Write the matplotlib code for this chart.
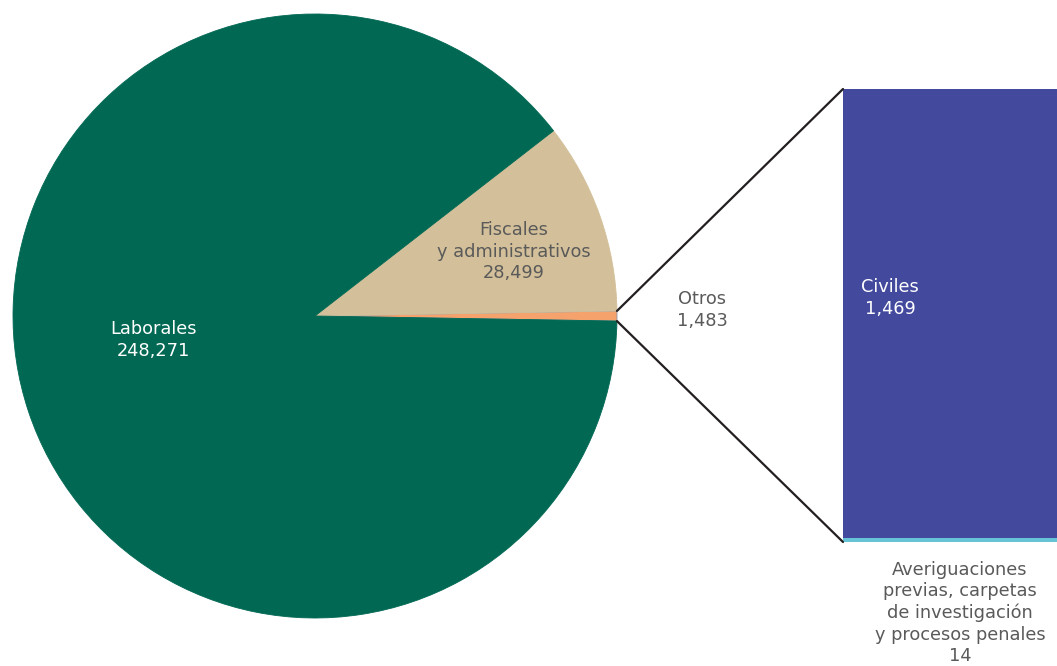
import numpy as np
import matplotlib
matplotlib.use("Agg")
import matplotlib.pyplot as plt
from matplotlib.patches import ConnectionPatch

plt.rcParams['font.family'] = ['DejaVu Sans']

# pie data
pie_labels = ['Otros', 'Fiscales\ny administrativos', 'Laborales']
pie_values = [1483, 28499, 248271]
pie_colors = ['#f5a26c', '#d3c09a', '#006853']

# bar data (breakdown of "Otros")
bar_labels = ['Averiguaciones\nprevias, carpetas\nde investigación\ny procesos penales', 'Civiles']
bar_values = [14, 1469]
bar_colors = ['#67c3d6', '#434a9e']

W, H = 1057, 666
fig = plt.figure(figsize=(W / 100, H / 100), dpi=100)

# pie axes, center (315,316) px, radius 302 px
ax = fig.add_axes([13 / W, (H - 618) / H, 604 / W, 604 / H])
otros_angle = 360 * pie_values[0] / sum(pie_values)
wedges, _ = ax.pie(pie_values, colors=pie_colors, startangle=-otros_angle / 2,
                   counterclock=True, radius=1,
                   wedgeprops=dict(linewidth=0.6, edgecolor='#8a94a8'))
for w in wedges:
    w.set_edgecolor(w.get_facecolor())
wedges[0].set_edgecolor('#8a94a8')
ax.set_xlim(-1, 1)
ax.set_ylim(-1, 1)
ax.axis('off')

grey = '#5a5a5a'
fs = 12.8
ls = 1.25
ax.text(-0.535, -0.08, f"{pie_labels[2]}\n{pie_values[2]:,}", ha='center', va='center',
        color='white', fontsize=fs, linespacing=ls)
ax.text(0.657, 0.212, f"{pie_labels[1]}\n{pie_values[1]:,}", ha='center', va='center',
        color=grey, fontsize=fs, linespacing=ls)
fig.text(702 / W, 1 - 310 / H, f"{pie_labels[0]}\n{pie_values[0]:,}", ha='center', va='center',
         color=grey, fontsize=fs, linespacing=ls)

# bar axes
ax2 = fig.add_axes([843 / W, (H - 542) / H, 214 / W, 453 / H])
bottom = 0
for v, c in zip(bar_values, bar_colors):
    ax2.bar([0], [v], bottom=bottom, width=1, color=c, linewidth=0)
    bottom += v
ax2.set_xlim(-0.5, 0.5)
ax2.set_ylim(0, sum(bar_values))
ax2.axis('off')

ax2.text(0.22, 0.539, f"{bar_labels[1]}\n{bar_values[1]:,}", transform=ax2.transAxes,
         ha='center', va='center', color='white', fontsize=fs, linespacing=ls)
fig.text(960 / W, 1 - 613 / H, f"{bar_labels[0]}\n{bar_values[0]:,}", ha='center', va='center',
         color=grey, fontsize=fs, linespacing=ls)

# connector lines
half = np.deg2rad(otros_angle / 2)
for sgn, yb in [(1, 1), (-1, 0)]:
    con = ConnectionPatch(xyA=(np.cos(half), sgn * np.sin(half)), coordsA=ax.transData,
                          xyB=(0, yb), coordsB=ax2.transAxes,
                          color='#231f20', linewidth=1.6)
    fig.add_artist(con)

fig.savefig('out.png', dpi=100)
